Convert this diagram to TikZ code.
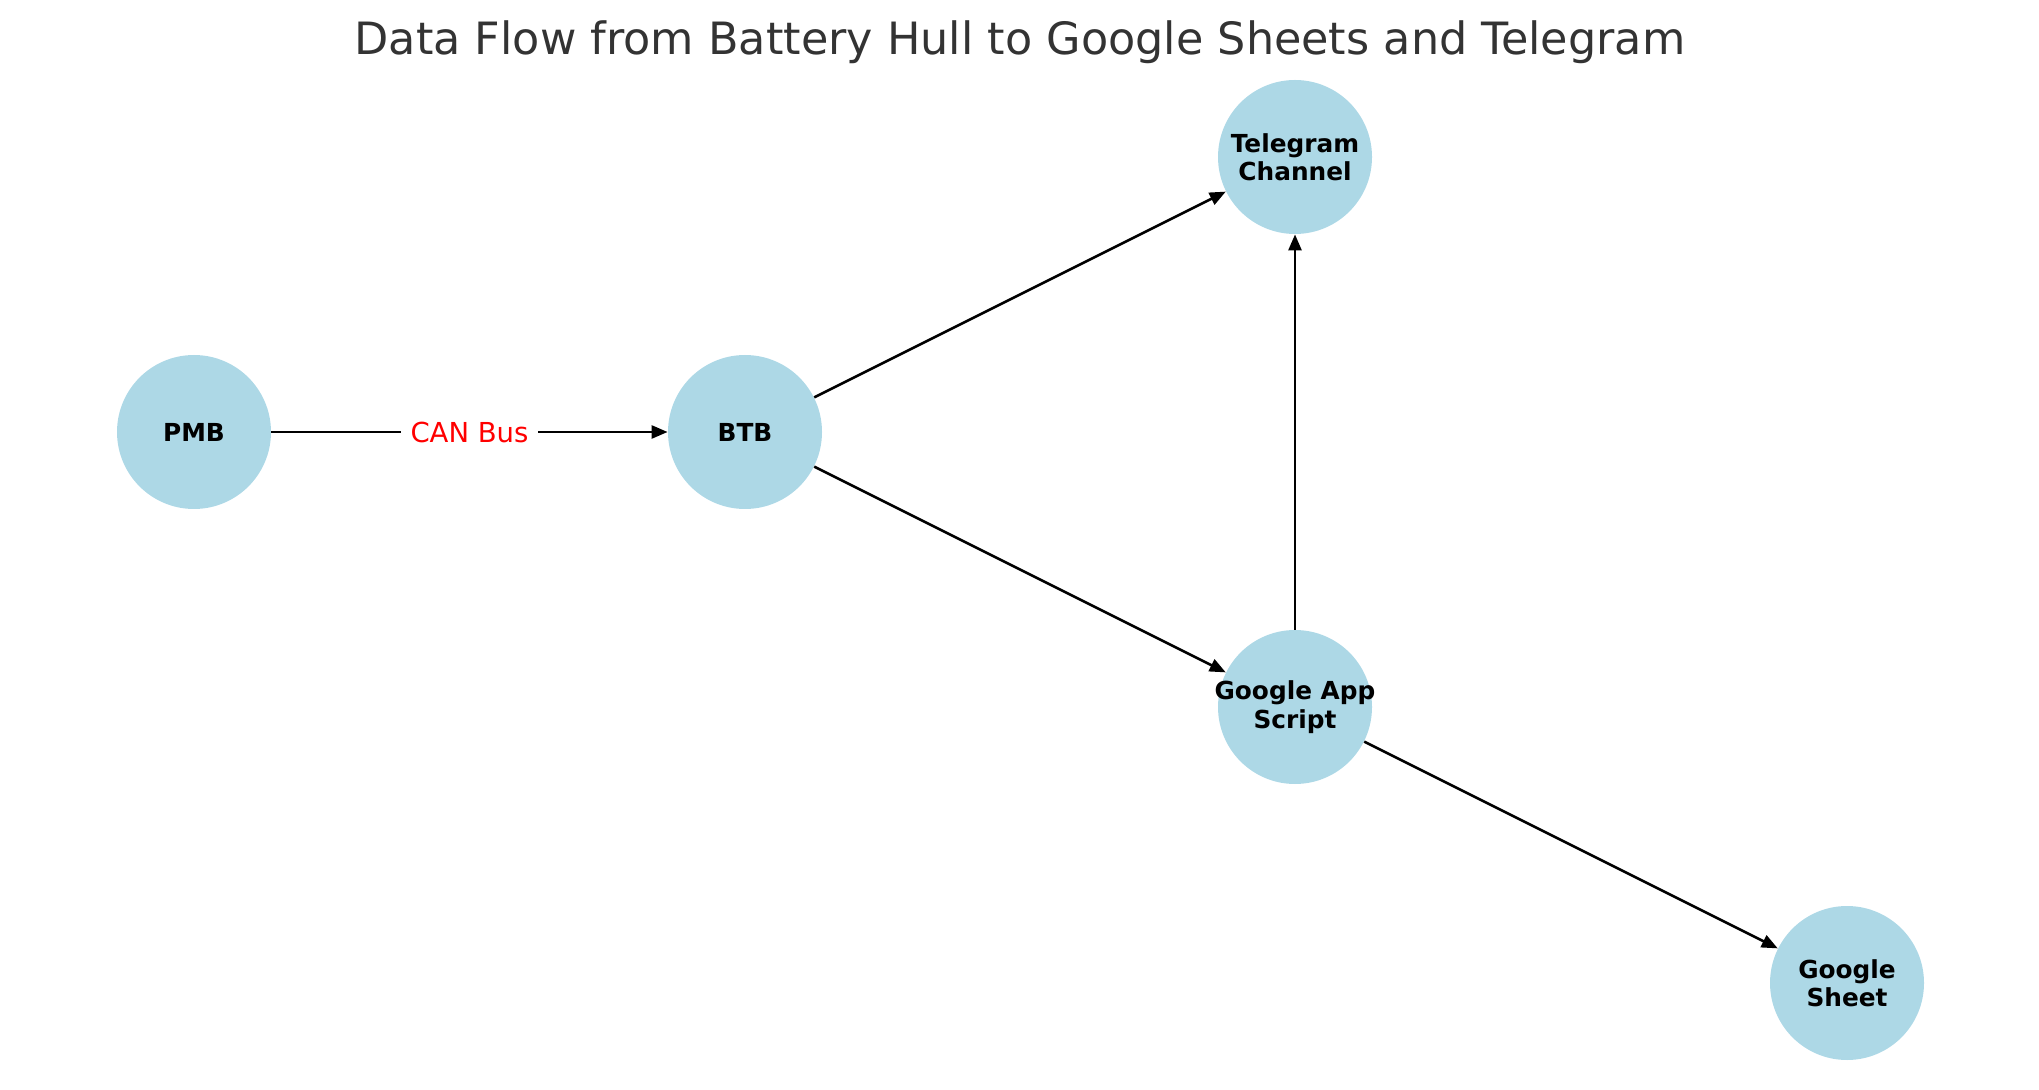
\documentclass[tikz,border=0pt]{standalone}
\usepackage{fontspec}
\setmainfont{DejaVu Sans}
\usetikzlibrary{arrows.meta}
\definecolor{nodeblue}{HTML}{ADD8E6}
\definecolor{titlegray}{HTML}{333333}
\tikzset{
  vnode/.style={circle, fill=nodeblue, draw=none, minimum size=77pt, inner sep=0pt},
  vlabel/.style={inner sep=0pt, font=\fontsize{12.4}{14.2}\selectfont\bfseries, align=center, text=black},
  flow/.style={line width=1.3pt, -{Triangle[length=8pt,width=6.5pt]}, black},
  elabel/.style={fill=white, text=red, font=\fontsize{13.75}{16}\selectfont, inner xsep=5pt, inner ysep=3pt}
}
\begin{document}
\begin{tikzpicture}[x=0.5pt,y=-0.5pt]
\useasboundingbox (0,0) rectangle (2039,1090);
\node[font=\fontsize{22.25}{26}\selectfont, text=titlegray] (title) at (1020,42) {Data Flow from Battery Hull to Google Sheets and Telegram};
\node[vnode] (pmb) at (194,432) {};
\node[vnode] (btb) at (745,432) {};
\node[vnode] (tg) at (1295,157) {};
\node[vnode] (gas) at (1295,707) {};
\node[vnode] (gs) at (1847,983) {};
\node[vlabel] (pmbl) at (pmb) {PMB};
\node[vlabel] (btbl) at (btb) {BTB};
\node[vlabel] (tgl) at (tg) {Telegram\\Channel};
\node[vlabel] (gasl) at (gas) {Google App\\Script};
\node[vlabel] (gsl) at (gs) {Google\\Sheet};
\draw[flow] (pmb) -- node[elabel] {CAN Bus} (btb);
\draw[flow] (btb) -- (tg);
\draw[flow] (btb) -- (gas);
\draw[flow] (gas) -- (tg);
\draw[flow] (gas) -- (gs);
\end{tikzpicture}
\end{document}
